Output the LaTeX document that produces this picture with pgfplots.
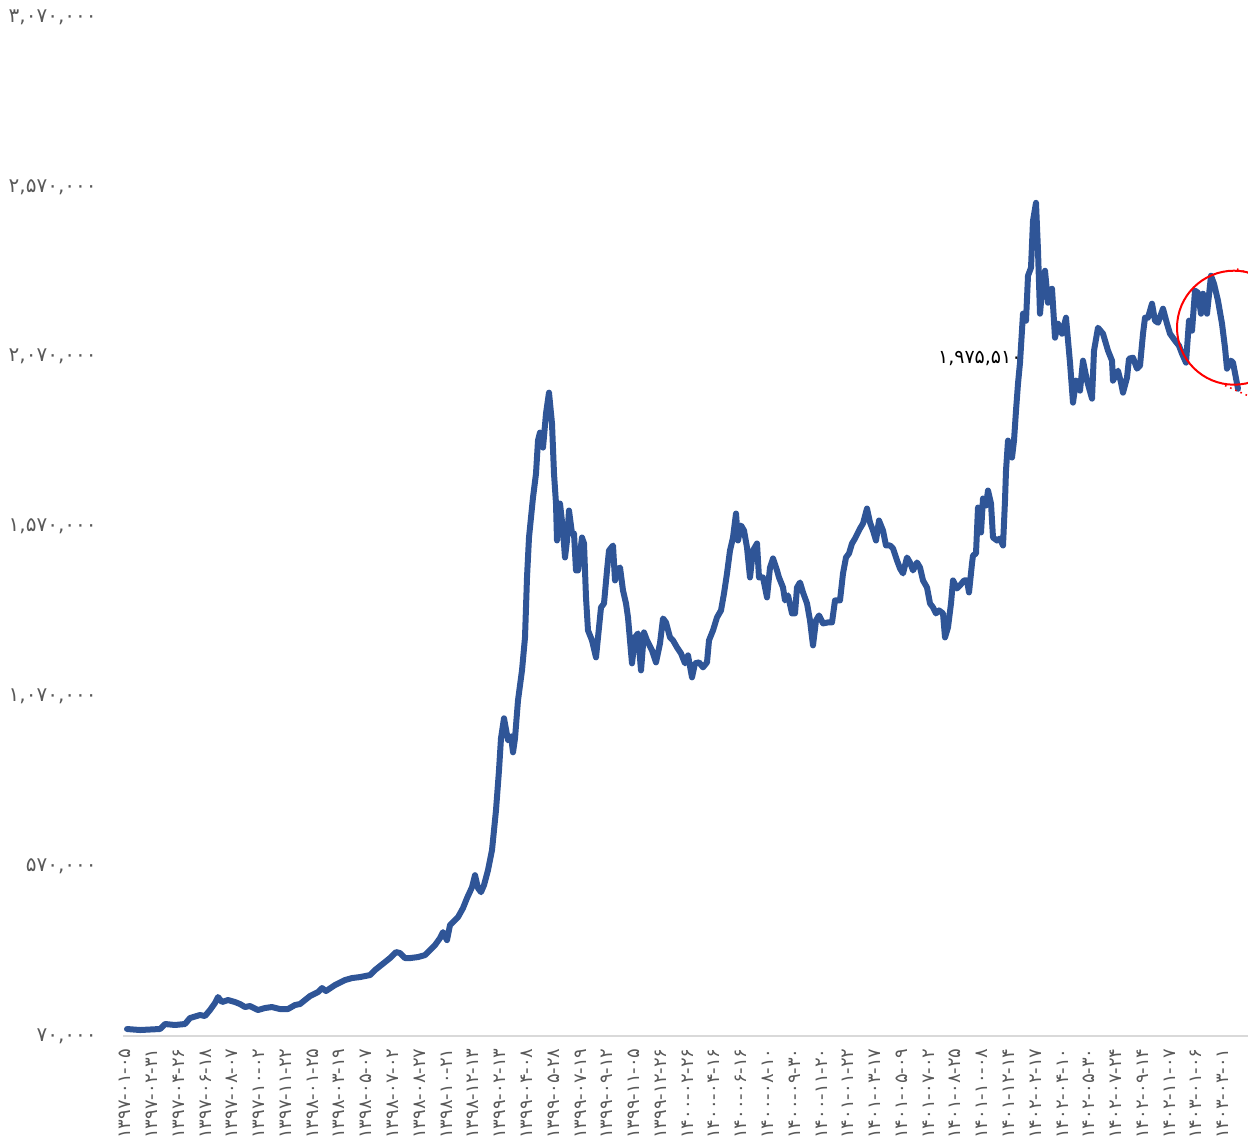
\documentclass[border=0pt]{standalone}
\usepackage{pgfplots}
\pgfplotsset{compat=1.18}
\usepackage{pgfplotstable}
\usepackage{fontspec}
\setmainfont{DejaVu Sans}
\newfontfamily\fa{DejaVu Sans}

\definecolor{lineblue}{RGB}{47,85,151}
\definecolor{tickgray}{RGB}{89,89,89}
\definecolor{axisgray}{RGB}{217,217,217}

% index values; x = position along the date axis
\pgfplotstableread{
x y
2 90600
15 87600
35 90600
40 105300
50 102400
60 105300
65 122900
75 131800
80 128800
85 146500
90 167100
93 184700
97 170000
103 175900
110 170000
115 164100
120 155300
125 158200
133 146500
140 152400
147 155300
155 149400
163 149400
170 161200
175 164100
185 187600
193 199400
197 211200
201 202400
210 220000
220 234700
227 240600
235 243500
245 249400
250 264100
255 275900
260 287600
265 299400
271 317100
275 314100
280 299400
285 299400
293 302400
300 308200
305 322900
310 337600
315 358200
318 375900
322 352400
325 396500
333 420000
338 446500
342 475900
347 508200
350 543500
353 505300
356 493500
359 514100
363 558200
367 617100
371 734700
374 852400
376 946500
379 1005300
383 940600
386 952400
388 905300
390 946500
393 1058200
397 1146500
400 1243500
402 1420000
404 1537600
408 1655300
411 1725900
413 1823000
415 1846500
418 1802400
421 1902400
424 1964100
427 1873000
429 1725900
431 1637600
432 1528800
435 1637600
438 1558200
440 1478800
442 1528800
444 1617100
447 1549400
449 1549400
451 1440600
453 1440600
457 1537600
459 1520000
461 1361200
463 1264100
467 1234700
471 1184700
473 1243500
476 1331800
479 1343500
482 1440600
484 1499400
488 1514100
490 1411200
492 1440600
495 1449400
498 1381800
501 1343500
503 1302400
507 1167100
510 1243500
513 1255300
516 1146500
519 1258200
522 1234700
527 1205300
531 1170000
535 1225900
538 1299400
541 1287600
545 1243500
548 1234700
552 1214100
556 1196500
560 1167100
563 1190600
567 1125900
570 1167100
574 1170000
578 1155300
582 1170000
584 1234700
588 1264100
592 1302400
596 1323000
599 1372900
602 1431800
605 1499400
608 1537600
611 1608200
613 1528800
616 1573000
619 1558200
622 1508200
625 1420000
628 1499400
632 1520000
634 1420000
638 1420000
642 1361200
645 1449400
648 1475900
652 1440600
654 1420000
658 1390600
660 1352400
663 1367100
667 1314100
670 1314100
672 1390600
675 1405300
678 1375900
682 1343500
685 1293500
688 1220000
691 1293500
694 1308200
698 1284700
703 1287600
707 1287600
710 1352400
715 1352400
718 1431800
721 1478800
724 1490600
727 1520000
730 1534700
735 1564100
738 1578800
742 1622900
745 1581800
748 1558200
751 1528800
754 1587600
758 1558200
761 1514100
765 1514100
768 1505300
772 1470000
775 1446500
778 1431800
782 1478800
785 1464100
788 1440600
792 1464100
795 1449400
798 1411200
802 1390600
805 1343500
808 1331800
811 1314100
814 1323000
818 1314100
820 1243500
823 1272900
826 1343500
828 1411200
832 1387600
835 1396500
839 1411200
842 1411200
844 1375900
847 1461200
848 1484700
851 1490600
853 1625900
856 1552400
858 1652400
861 1631800
863 1675900
866 1637600
868 1537600
872 1528800
875 1534700
878 1514100
880 1646500
881 1734700
883 1823000
885 1787600
887 1773000
889 1823000
891 1911200
893 1990600
895 2052400
898 2196500
901 2175900
903 2308200
906 2331800
908 2470000
911 2522900
913 2381800
915 2196500
917 2264100
920 2323000
923 2228800
927 2270000
930 2125900
933 2167100
937 2137600
941 2184700
945 2052400
948 1934700
951 1999400
955 1970000
958 2058200
962 1999400
967 1946500
969 2087600
973 2155300
978 2137600
983 2087600
987 2058200
988 1999400
993 2028800
996 1993500
998 1964100
1002 2008200
1004 2064100
1008 2067100
1012 2034700
1015 2043500
1018 2137600
1020 2184700
1023 2184700
1027 2225900
1030 2175900
1033 2170000
1038 2211200
1042 2167100
1045 2137600
1050 2117100
1054 2102400
1057 2078800
1061 2052400
1064 2175900
1067 2146500
1070 2264100
1073 2258200
1076 2196500
1078 2255300
1082 2196500
1086 2308200
1089 2284700
1093 2234700
1097 2167100
1100 2096500
1102 2034700
1106 2058200
1108 2052400
1113 1975510
}\indexdata

\begin{document}
\begin{tikzpicture}
\begin{axis}[
    at={(0,0)}, anchor=south west,
    scale only axis,
    width=562.5pt, height=509.5pt,
    xmin=-2, xmax=1123,
    ymin=70000, ymax=3070000,
    clip=false,
    axis line style={draw=none},
    tick style={draw=none},
    xtick={0,26.78,...,1099},
    xticklabels={۱۳۹۷-۰۱-۰۵,۱۳۹۷-۰۲-۳۱,۱۳۹۷-۰۴-۲۶,۱۳۹۷-۰۶-۱۸,۱۳۹۷-۰۸-۰۷,۱۳۹۷-۱۰-۰۲,۱۳۹۷-۱۱-۲۲,۱۳۹۸-۰۱-۲۵,۱۳۹۸-۰۳-۱۹,۱۳۹۸-۰۵-۰۷,۱۳۹۸-۰۷-۰۲,۱۳۹۸-۰۸-۲۷,۱۳۹۸-۱۰-۲۱,۱۳۹۸-۱۲-۱۳,۱۳۹۹-۰۲-۱۳,۱۳۹۹-۰۴-۰۸,۱۳۹۹-۰۵-۲۸,۱۳۹۹-۰۷-۱۹,۱۳۹۹-۰۹-۱۲,۱۳۹۹-۱۱-۰۵,۱۳۹۹-۱۲-۲۶,۱۴۰۰-۰۲-۲۶,۱۴۰۰-۰۴-۱۶,۱۴۰۰-۰۶-۱۶,۱۴۰۰-۰۸-۱۰,۱۴۰۰-۰۹-۳۰,۱۴۰۰-۱۱-۲۰,۱۴۰۱-۰۱-۲۲,۱۴۰۱-۰۳-۱۷,۱۴۰۱-۰۵-۰۹,۱۴۰۱-۰۷-۰۲,۱۴۰۱-۰۸-۲۵,۱۴۰۱-۱۰-۰۸,۱۴۰۱-۱۲-۱۴,۱۴۰۲-۰۲-۱۷,۱۴۰۲-۰۴-۱۰,۱۴۰۲-۰۵-۳۰,۱۴۰۲-۰۷-۲۴,۱۴۰۲-۰۹-۱۴,۱۴۰۲-۱۱-۰۷,۱۴۰۳-۰۱-۰۶,۱۴۰۳-۰۳-۰۱},
    xticklabel style={rotate=90, anchor=east, inner sep=0pt, text=tickgray,
        font=\fa\fontsize{9}{10}\selectfont},
    xticklabel shift=6pt,
    ytick={70000,570000,1070000,1570000,2070000,2570000,3070000},
    yticklabels={{۷۰,۰۰۰},{۵۷۰,۰۰۰},{۱,۰۷۰,۰۰۰},{۱,۵۷۰,۰۰۰},{۲,۰۷۰,۰۰۰},{۲,۵۷۰,۰۰۰},{۳,۰۷۰,۰۰۰}},
    yticklabel style={anchor=east, inner sep=0pt, text=tickgray,
        font=\fa\fontsize{10}{11}\selectfont},
    yticklabel shift=13pt,
]
\draw[axisgray, line width=0.75pt] (rel axis cs:0,0) -- (rel axis cs:1,0);

\addplot[lineblue, line width=3pt, line join=round, line cap=round]
    table[x=x, y=y] {\indexdata};

\node[anchor=east, inner sep=0pt, font=\fa\fontsize{9.5}{11}\selectfont]
    at (axis cs:897,2064000) {۱,۹۷۵,۵۱۰};

\draw[red, line width=1pt] (axis cs:1109,2155300) circle[radius=28.5pt];
\draw[red, dotted, line width=0.8pt] (axis cs:1112,2328000) -- (axis cs:1123,2317000);
\draw[red, dotted, line width=0.8pt] (axis cs:1100,1985000) -- (axis cs:1123,1955000);
\end{axis}
\pgfresetboundingbox
\path[use as bounding box] (-61.5pt,-55.5pt) rectangle (562.5pt,518pt);
\end{tikzpicture}
\end{document}
